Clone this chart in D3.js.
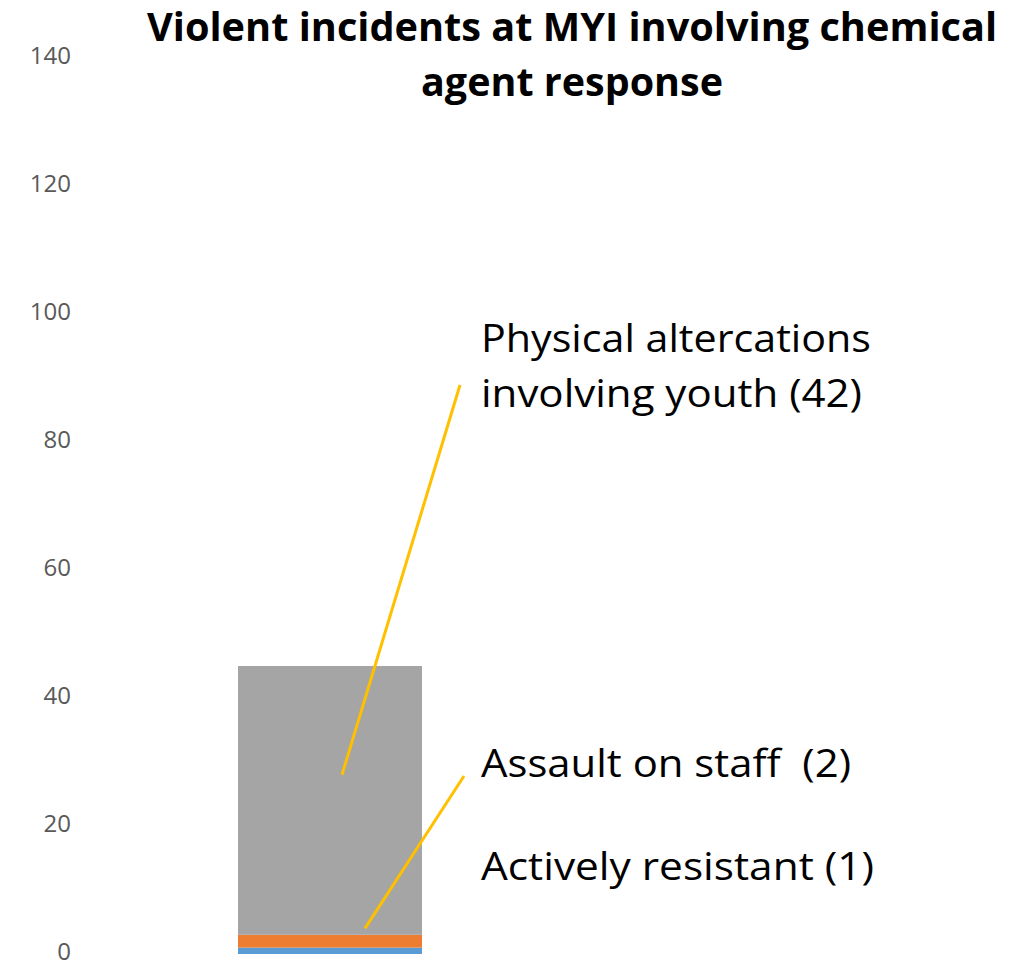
<!DOCTYPE html>
<html>
<head>
<meta charset="utf-8">
<script src="https://cdn.jsdelivr.net/npm/d3@7"></script>
<style>
  body { margin: 0; background: #fff; }
  text { font-family: "Open Sans", "Noto Sans", sans-serif; white-space: pre; }
</style>
</head>
<body>
<script>
// data
var categories = ['Actively resistant', 'Assault on staff', 'Physical altercations involving youth'];
var counts = [1, 2, 42];
var colours = ['#5b9bd5', '#ed7d31', '#a5a5a5'];
var yTicks = [0, 20, 40, 60, 80, 100, 120, 140];
var labelLines = [
  ['Actively resistant (1)'],
  ['Assault on staff  (2)'],
  ['Physical altercations', 'involving youth (42)']
];
// value each leader line points at (null = no line)
var leaderTargets = [null, 4, 28];
var titleLines = ['Violent incidents at MYI involving chemical', 'agent response'];

var W = 1018, H = 967;
var svg = d3.select('body').append('svg')
  .attr('width', W)
  .attr('height', H);

var y = d3.scaleLinear()
  .domain([0, 140])
  .range([954, 58]);

// stack
var stacked = [];
var acc = 0;
counts.forEach(function (c, i) {
  stacked.push({ key: categories[i], y0: acc, y1: acc + c, colour: colours[i] });
  acc += c;
});

// y axis, no line, only labels
var yAxis = svg.append('g')
  .attr('transform', 'translate(71,-2)')
  .call(d3.axisLeft(y).tickValues(yTicks).tickSize(0).tickPadding(0));
yAxis.select('.domain').remove();
yAxis.selectAll('text')
  .attr('fill', '#595959')
  .style('font-size', '24px')
  .style('font-family', '"Open Sans", sans-serif');

var bx = 238, bw = 184;
svg.append('g')
  .selectAll('rect')
  .data(stacked)
  .enter().append('rect')
  .attr('x', bx)
  .attr('width', bw)
  .attr('y', function (d) { return y(d.y1); })
  .attr('height', function (d) { return y(d.y0) - y(d.y1); })
  .attr('fill', function (d) { return d.colour; });

// data labels
var labelY = [880, 777, 352];
var labelW = [[393], [370], [390, 381]];
var labelX = 481;
labelLines.forEach(function (lines, i) {
  lines.forEach(function (s, j) {
    svg.append('text')
      .attr('x', labelX)
      .attr('y', labelY[i] + j * 55)
      .attr('fill', '#000')
      .style('font-size', '39px')
      .attr('textLength', labelW[i][j])
      .attr('lengthAdjust', 'spacingAndGlyphs')
      .text(s);
  });
});

// leader lines
var leaderFrom = [null, [464, 776], [460, 385]];
var leaderX = [null, 365, 342];
leaderTargets.forEach(function (v, i) {
  if (v === null) return;
  svg.append('line')
    .attr('x1', leaderFrom[i][0])
    .attr('y1', leaderFrom[i][1])
    .attr('x2', leaderX[i])
    .attr('y2', y(v))
    .attr('stroke', '#ffc000')
    .attr('stroke-width', 3);
});

// title
svg.append('g')
  .selectAll('text')
  .data(titleLines)
  .enter().append('text')
  .attr('x', 572)
  .attr('y', function (d, i) { return 41 + i * 55; })
  .attr('text-anchor', 'middle')
  .style('font-size', '39px')
  .style('font-weight', 'bold')
  .attr('textLength', function (d, i) { return i === 0 ? 850 : 302; })
  .attr('lengthAdjust', 'spacingAndGlyphs')
  .text(function (d) { return d; });
</script>
</body>
</html>
